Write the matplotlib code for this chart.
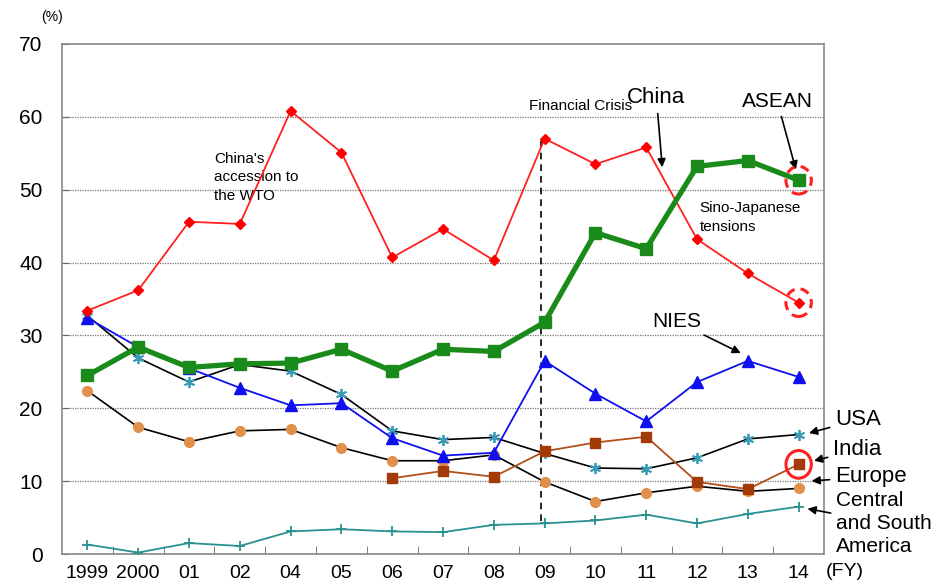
import matplotlib
matplotlib.use("Agg")
import matplotlib.pyplot as plt
from matplotlib.patches import Ellipse

plt.rcParams['font.family'] = ['Liberation Sans', 'DejaVu Sans']

# fiscal years (no 2003 in the source)
years = ['1999', '2000', '01', '02', '04', '05', '06', '07', '08', '09', '10', '11', '12', '13', '14']

china = [33.4, 36.2, 45.6, 45.3, 60.8, 55.1, 40.7, 44.6, 40.3, 57.0, 53.5, 55.8, 43.2, 38.5, 34.5]
asean = [24.5, 28.4, 25.6, 26.1, 26.2, 28.1, 25.1, 28.1, 27.8, 31.8, 44.1, 41.9, 53.2, 54.0, 51.3]
nies = [32.4, 28.4, 25.5, 22.8, 20.4, 20.7, 15.9, 13.5, 13.9, 26.5, 22.0, 18.2, 23.6, 26.5, 24.3]
usa = [32.7, 26.9, 23.6, 26.0, 25.1, 21.9, 16.9, 15.7, 16.0, 13.8, 11.8, 11.7, 13.2, 15.8, 16.4]
europe = [22.4, 17.4, 15.4, 16.9, 17.1, 14.6, 12.8, 12.8, 13.6, 9.9, 7.2, 8.4, 9.3, 8.6, 9.0]
india_years = ['06', '07', '08', '09', '10', '11', '12', '13', '14']
india = [10.4, 11.4, 10.6, 14.1, 15.3, 16.1, 9.9, 8.9, 12.3]
csa = [1.3, 0.2, 1.5, 1.1, 3.1, 3.4, 3.1, 3.0, 4.0, 4.2, 4.6, 5.4, 4.2, 5.5, 6.5]

x = list(range(len(years)))
xi = [years.index(y) for y in india_years]

fig = plt.figure(figsize=(9.51, 5.86), dpi=100)
ax = fig.add_axes([0.0652, 0.0546, 0.8013, 0.8704])

# series
ax.plot(x, csa, color='#2a9090', lw=1.3, marker='+', ms=7, mew=1.3, zorder=3)
ax.plot(x, europe, color='black', lw=1.2, marker='o', ms=7, mfc='#e0904a', mec='#e0904a', zorder=3)
ax.plot(xi, india, color='#b0501c', lw=1.3, marker='s', ms=7, mfc='#a33a08', mec='#a33a08', zorder=4)
ax.plot(x, usa, color='black', lw=1.2, marker=(6, 2, 0), ms=8, mec='#3a9ab8', mew=1.3, zorder=3)
ax.plot(x, nies, color='#1010ee', lw=1.3, marker='^', ms=8, mfc='#1010ee', mec='#1010ee', zorder=4)
ax.plot(x, china, color='#ff2020', lw=1.3, marker='D', ms=5, mfc='#ff0000', mec='#ff0000', zorder=4)
ax.plot(x, asean, color='#1a8a1a', lw=3.8, marker='s', ms=8, mfc='#1a8a1a', mec='#1a8a1a', zorder=5)

ax.set_xlim(-0.5, len(years) - 0.5)
ax.set_ylim(0, 70)
ax.set_yticks(range(0, 71, 10))
ax.set_xticks(x)
ax.set_xticklabels(years)
ax.set_xticks([i + 0.5 for i in range(len(years) - 1)], minor=True)
ax.tick_params(axis='x', which='major', length=0, labelsize=14, pad=8)
ax.tick_params(axis='x', which='minor', direction='in', length=6, color='#666666')
ax.tick_params(axis='y', direction='in', length=5, labelsize=15, color='#666666', pad=14)
for y in range(10, 70, 10):
    ax.axhline(y, color='#777777', lw=0.9, ls=(0, (1, 1)), zorder=1)
for s in ax.spines.values():
    s.set_color('#888888')
    s.set_linewidth(1.2)

# financial crisis marker
ax.plot([8.93, 8.93], [4.5, 57.0], color='black', lw=1.2, ls=(0, (4, 3)), zorder=2)
ax.text(8.7, 61.5, 'Financial Crisis', fontsize=11, va='center')
ax.text(2.5, 55.2, "China's\naccession to\nthe WTO", fontsize=11, linespacing=1.4, va='top')
ax.text(12.05, 48.4, 'Sino-Japanese\ntensions', fontsize=11, linespacing=1.4, va='top')

# series labels with arrows
arrow = dict(arrowstyle='-|>', color='black', lw=1.2, mutation_scale=12)
ax.annotate('China', xy=(11.32, 52.7), xytext=(11.2, 61.2), fontsize=16, ha='center', va='bottom',
            arrowprops=arrow)
ax.annotate('ASEAN', xy=(13.96, 52.4), xytext=(13.58, 60.8), fontsize=15, ha='center', va='bottom',
            arrowprops=arrow)
ax.annotate('NIES', xy=(12.91, 27.4), xytext=(11.6, 30.6), fontsize=15, ha='center', va='bottom',
            arrowprops=arrow)
ax.annotate('USA', xy=(14.15, 16.5), xytext=(14.72, 18.4), fontsize=16, ha='left', va='center',
            arrowprops=arrow, annotation_clip=False)
ax.annotate('India', xy=(14.25, 12.7), xytext=(14.68, 14.3), fontsize=16, ha='left', va='center',
            arrowprops=arrow, annotation_clip=False)
ax.annotate('Europe', xy=(14.2, 10.0), xytext=(14.72, 10.6), fontsize=16, ha='left', va='center',
            arrowprops=arrow, annotation_clip=False)
ax.annotate('Central\nand South\nAmerica', xy=(14.12, 6.3), xytext=(14.74, 4.2), fontsize=15,
            ha='left', va='center', linespacing=1.25, arrowprops=arrow, annotation_clip=False)

# highlight rings on the last year
ax.add_patch(Ellipse((14, asean[-1]), 0.5, 3.8, fill=False, ec='#ff2020', lw=2.2, ls=(0, (3, 2)), zorder=6))
ax.add_patch(Ellipse((14, china[-1]), 0.5, 3.8, fill=False, ec='#ff2020', lw=2.2, ls=(0, (3, 2)), zorder=6))
ax.add_patch(Ellipse((14, india[-1]), 0.5, 3.8, fill=False, ec='#ff2020', lw=2.2, zorder=6))

fig.text(0.043, 0.965, '(%)', fontsize=10)
fig.text(0.868, 0.017, '(FY)', fontsize=14)

fig.savefig('out.png', dpi=100)
